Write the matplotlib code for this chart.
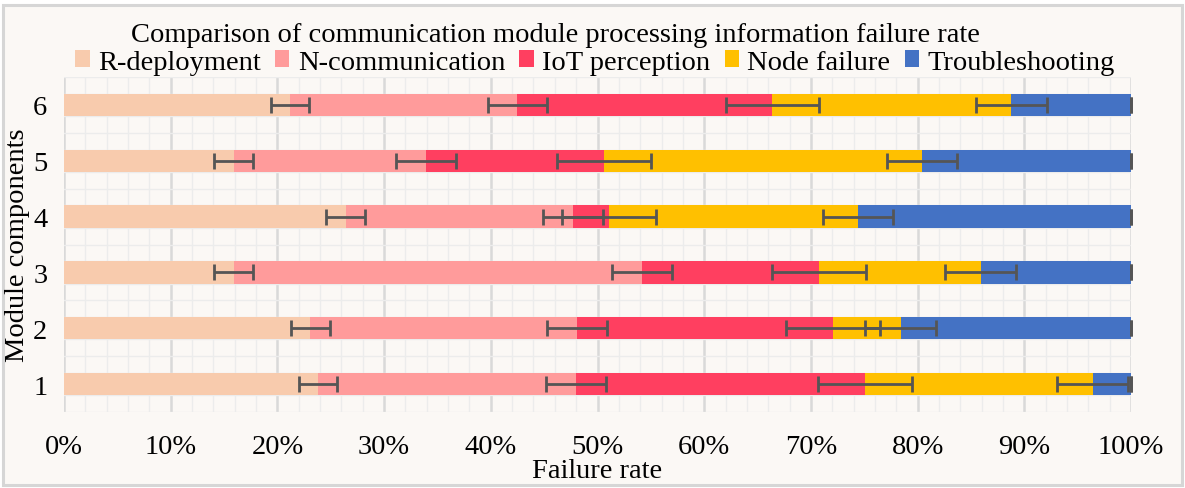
import matplotlib
matplotlib.use("Agg")
import matplotlib.pyplot as plt
from matplotlib.patches import Rectangle
from matplotlib.ticker import MultipleLocator, FuncFormatter
import numpy as np

plt.rcParams['font.family'] = ['Liberation Serif', 'DejaVu Serif']

categories = ['1', '2', '3', '4', '5', '6']
series_names = ['R-deployment', 'N-communication', 'IoT perception', 'Node failure', 'Troubleshooting']
r_deployment    = [23.8, 23.1, 15.9, 26.4, 15.9, 21.2]
n_communication = [24.2, 25.0, 38.3, 21.3, 18.0, 21.3]
iot_perception  = [27.1, 24.0, 16.6,  3.4, 16.7, 23.9]
node_failure    = [21.3,  6.3, 15.1, 23.3, 29.8, 22.4]
troubleshooting = [ 3.6, 21.6, 14.1, 25.6, 19.6, 11.2]
errors = [1.8, 2.8, 4.4, 3.3, 0.0]
colors = ['#F8CBAD', '#FF9B9B', '#FF3F60', '#FFC000', '#4472C4']

series = [r_deployment, n_communication, iot_perception, node_failure, troubleshooting]

W, H = 1185, 489
FS = 20.5
fig = plt.figure(figsize=(W / 100, H / 100), dpi=100)
bg = '#FBF8F5'
fig.patch.set_facecolor('white')
fig.patches.append(Rectangle((3 / W, 3 / H), 1 - 6 / W, 1 - 9 / H, transform=fig.transFigure,
                             facecolor=bg, edgecolor='#D6D6D6', linewidth=2.2, zorder=-10))

ax = fig.add_axes([64 / W, 1 - 413 / H, (1131 - 64) / W, (413 - 78) / H])
ax.set_facecolor(bg)

y = np.arange(1, len(categories) + 1)
left = np.zeros(len(categories))
bar_h = 0.4
for vals, name, col, err in zip(series, series_names, colors, errors):
    vals = np.array(vals)
    ax.barh(y, vals, left=left, height=bar_h, color=col, label=name, zorder=3)
    ends = left + vals
    ax.errorbar(ends, y, xerr=err, fmt='none', ecolor='#555555', elinewidth=2.0,
                capsize=5.5, capthick=2.0, zorder=5, clip_on=False)
    left = ends

ax.set_xlim(0, 100)
ax.set_ylim(0.5, 6.5)

ax.xaxis.set_major_locator(MultipleLocator(10))
ax.xaxis.set_minor_locator(MultipleLocator(2))
ax.xaxis.set_major_formatter(FuncFormatter(lambda v, p: f'{v:.0f}%'))
ax.set_yticks(y)
ax.set_yticklabels(categories)
ax.set_yticks(np.concatenate([y - 0.2, y + 0.2, y + 0.5, [0.5]]), minor=True)

ax.grid(which='major', axis='x', color='#D9D9D9', linewidth=1.8, zorder=1)
ax.grid(which='minor', axis='x', color='#ECECEC', linewidth=1.0, zorder=0)
ax.grid(which='minor', axis='y', color='#ECECEC', linewidth=1.0, zorder=0)
ax.set_axisbelow(True)

for s in ax.spines.values():
    s.set_visible(False)
ax.tick_params(which='both', length=0)
ax.tick_params(axis='x', labelsize=FS, pad=16)
ax.tick_params(axis='y', labelsize=FS, pad=12)

ax.set_xlabel('Failure rate', fontsize=FS)
ax.xaxis.set_label_coords(0.5, -0.138)
ax.set_ylabel('Module components', fontsize=FS, labelpad=2)

fig.text(555 / W, 1 - 36 / H, 'Comparison of communication module processing information failure rate',
         ha='center', va='center', fontsize=FS)

handles, labels = ax.get_legend_handles_labels()
fig.legend(handles, labels, loc='center', bbox_to_anchor=(595 / W, 1 - 63 / H), ncol=5,
           frameon=False, fontsize=FS, handlelength=0.5, handleheight=0.5,
           handletextpad=0.3, columnspacing=0.5, borderpad=0)

fig.savefig('out.png', dpi=100, facecolor=fig.get_facecolor())
